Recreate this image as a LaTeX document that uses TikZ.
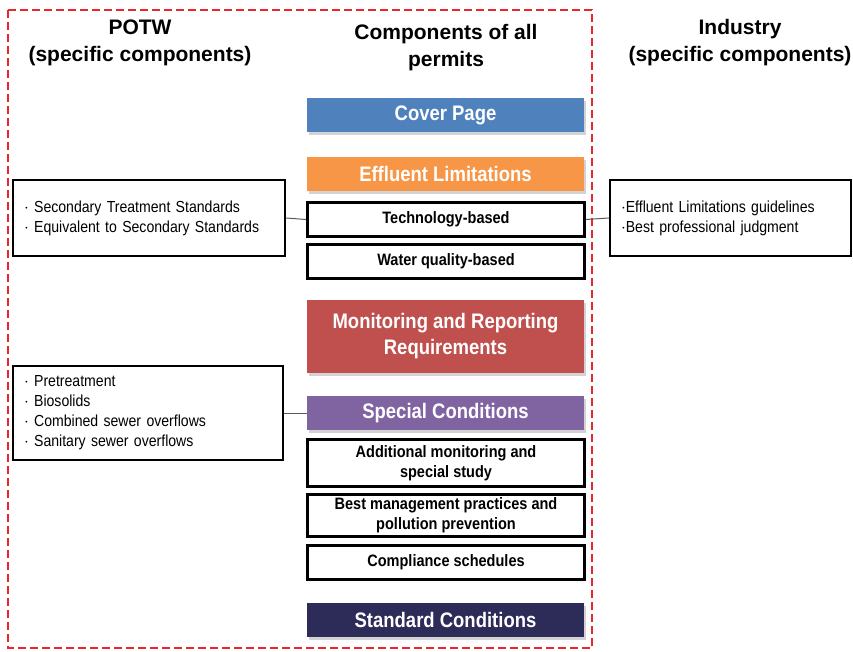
\documentclass[tikz,border=0pt]{standalone}
\usepackage{fontspec}
\setmainfont{Liberation Sans}
\newfontfamily\barfont[FakeStretch=0.88]{Liberation Sans}
\usetikzlibrary{shadows}
\definecolor{coverblue}{HTML}{4F81BD}
\definecolor{efforange}{HTML}{F79646}
\definecolor{monred}{HTML}{C0504D}
\definecolor{specpurple}{HTML}{8064A2}
\definecolor{stdnavy}{HTML}{2D2B57}
\definecolor{framered}{HTML}{E8282B}
\begin{document}
\begin{tikzpicture}[x=1pt,y=-1pt,
  hdr/.style={align=center,font=\fontsize{21}{27}\selectfont\bfseries},
  bar/.style={fill=#1,text=white,minimum width=277pt,minimum height=34pt,inner sep=0pt,
    align=center,font=\barfont\fontsize{21}{26}\selectfont\bfseries,
    drop shadow={shadow xshift=1.5pt,shadow yshift=-2.5pt,opacity=0.35}},
  sub/.style={draw=black,line width=2.8pt,minimum width=277pt,minimum height=34pt,inner sep=0pt,
    align=center,font=\barfont\fontsize{16.5}{20}\selectfont\bfseries},
  note/.style={draw=black,line width=2.4pt,inner xsep=10pt,inner ysep=0pt,align=left,
    font=\barfont\fontsize{16}{20}\selectfont},
  link/.style={draw=black!65,line width=1pt}]
\useasboundingbox (0,0) rectangle (853,651);
\draw[framered,line width=2pt,dash pattern=on 8pt off 4pt] (8,10) rectangle (592,648);

% column titles
\node[hdr] (potw) at (140,43) {POTW\\(specific components)};
\node[hdr] (allperm) at (446,48) {Components of all\\permits};
\node[hdr] (industry) at (740,43) {Industry\\(specific components)};

% middle column
\node[bar=coverblue] (cover) at (445.5,115) {Cover Page};
\node[bar=efforange] (effluent) at (445.5,174) {Effluent Limitations};
\node[sub] (tech) at (446,219.5) {Technology-based};
\node[sub] (water) at (446,261.5) {Water quality-based};
\node[bar=monred,minimum height=73pt] (monitor) at (445.5,336.5) {Monitoring and Reporting\\Requirements};
\node[bar=specpurple] (special) at (445.5,413) {Special Conditions};
\node[sub,minimum height=47pt] (addmon) at (446,463) {Additional monitoring and\\special study};
\node[sub,minimum height=42pt] (bmp) at (446,515.5) {Best management practices and\\pollution prevention};
\node[sub] (comply) at (446,562.5) {Compliance schedules};
\node[bar=stdnavy] (standard) at (445.5,620) {Standard Conditions};

% side notes
\node[note,minimum width=272pt,minimum height=76pt,text width=250pt] (potwtech) at (149,218)
  {$\cdot$ Secondary Treatment Standards\\$\cdot$ Equivalent to Secondary Standards};
\node[note,minimum width=241pt,minimum height=76pt,text width=219pt] (indtech) at (730.5,218)
  {$\cdot$Effluent Limitations guidelines\\$\cdot$Best professional judgment};
\node[note,minimum width=270pt,minimum height=94pt,text width=248pt] (potwspec) at (148,413)
  {$\cdot$ Pretreatment\\$\cdot$ Biosolids\\$\cdot$ Combined sewer overflows\\$\cdot$ Sanitary sewer overflows};

\draw[link] (potwtech.east) -- (tech.west);
\draw[link] (tech.east) -- (indtech.west);
\draw[link] (potwspec.east) -- (special.west);
\end{tikzpicture}
\end{document}
